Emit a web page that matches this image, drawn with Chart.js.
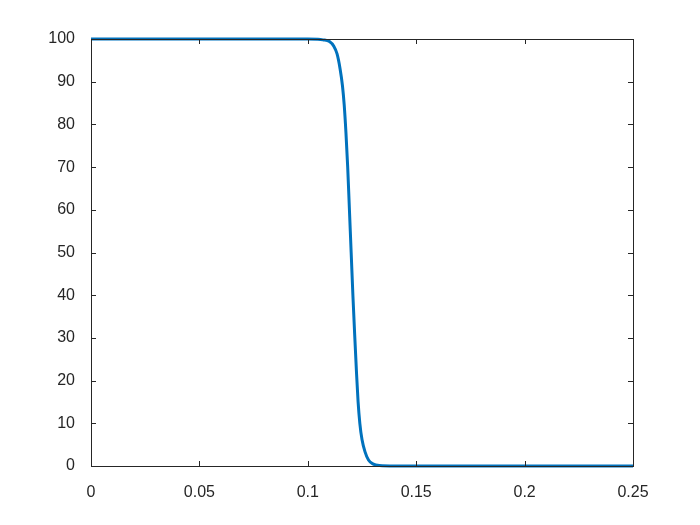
<!DOCTYPE html>
<html>
<head>
<meta charset="utf-8">
<script src="https://cdn.jsdelivr.net/npm/chart.js@4.4.1/dist/chart.umd.min.js"></script>
<style>
  html, body { margin: 0; padding: 0; background: #fff; }
  #wrap { width: 700px; height: 525px; }
</style>
</head>
<body>
<div id="wrap"><canvas id="c" width="700" height="525"></canvas></div>
<script>
// ====== Dữ liệu ======
const xVals = [0, 0.05, 0.1, 0.1047, 0.107, 0.11, 0.112, 0.1135, 0.1149, 0.116, 0.1168, 0.1176,
  0.1184, 0.1192, 0.12, 0.1208, 0.1216, 0.1224, 0.1232, 0.124, 0.125, 0.1264, 0.128, 0.13, 0.133, 0.14, 0.2, 0.25];
const yVals = [100, 100, 100, 99.95, 99.8, 99.4, 98.3, 96.5, 93, 89, 84.5, 78,
  70, 60, 50, 40, 31, 22.5, 15, 10, 6.2, 3.3, 1.4, 0.5, 0.1, 0, 0, 0];
const xTicks = [0, 0.05, 0.1, 0.15, 0.2, 0.25];
const yTicks = [0, 10, 20, 30, 40, 50, 60, 70, 80, 90, 100];

const axisColor = "#262626";
const fontFamily = "'Liberation Sans', Arial, sans-serif";

// ====== Khung + vạch chia hướng vào trong (kiểu MATLAB) ======
const boxPlugin = {
  id: "box",
  afterDatasetsDraw(chart) {
    const { ctx, chartArea: a, scales } = chart;
    ctx.save();
    ctx.strokeStyle = axisColor;
    ctx.lineWidth = 1;
    ctx.strokeRect(a.left + 0.5, a.top + 0.5, a.right - a.left, a.bottom - a.top);
    const len = 5;
    ctx.beginPath();
    xTicks.forEach(v => {
      const px = Math.round(scales.x.getPixelForValue(v)) + 0.5;
      ctx.moveTo(px, a.bottom); ctx.lineTo(px, a.bottom - len);
      ctx.moveTo(px, a.top); ctx.lineTo(px, a.top + len);
    });
    yTicks.forEach(v => {
      const py = Math.round(scales.y.getPixelForValue(v)) + 0.5;
      ctx.moveTo(a.left, py); ctx.lineTo(a.left + len, py);
      ctx.moveTo(a.right, py); ctx.lineTo(a.right - len, py);
    });
    ctx.stroke();
    ctx.restore();
  }
};

new Chart(document.getElementById("c"), {
  type: "line",
  data: {
    datasets: [{
      data: xVals.map((x, i) => ({ x, y: yVals[i] })),
      borderColor: "#0072BD",
      borderWidth: 3,
      pointRadius: 0,
      cubicInterpolationMode: "monotone",
      fill: false
    }]
  },
  options: {
    responsive: false,
    animation: false,
    clip: false,
    layout: { padding: { left: 0, right: 67, top: 39, bottom: 0 } },
    plugins: { legend: { display: false }, tooltip: { enabled: false } },
    scales: {
      x: {
        type: "linear", min: 0, max: 0.25,
        afterFit: s => { s.height = 59; },
        afterBuildTicks: s => { s.ticks = xTicks.map(v => ({ value: v })); },
        grid: { display: false },
        border: { display: false },
        ticks: {
          color: axisColor, padding: 9, maxRotation: 0,
          font: { family: fontFamily, size: 16 },
          callback: v => String(v)
        }
      },
      y: {
        type: "linear", min: 0, max: 100,
        afterFit: s => { s.width = 91; },
        afterBuildTicks: s => { s.ticks = yTicks.map(v => ({ value: v })); },
        grid: { display: false },
        border: { display: false },
        ticks: {
          color: axisColor, padding: 8,
          font: { family: fontFamily, size: 16 }
        }
      }
    }
  },
  plugins: [boxPlugin]
});
</script>
</body>
</html>
